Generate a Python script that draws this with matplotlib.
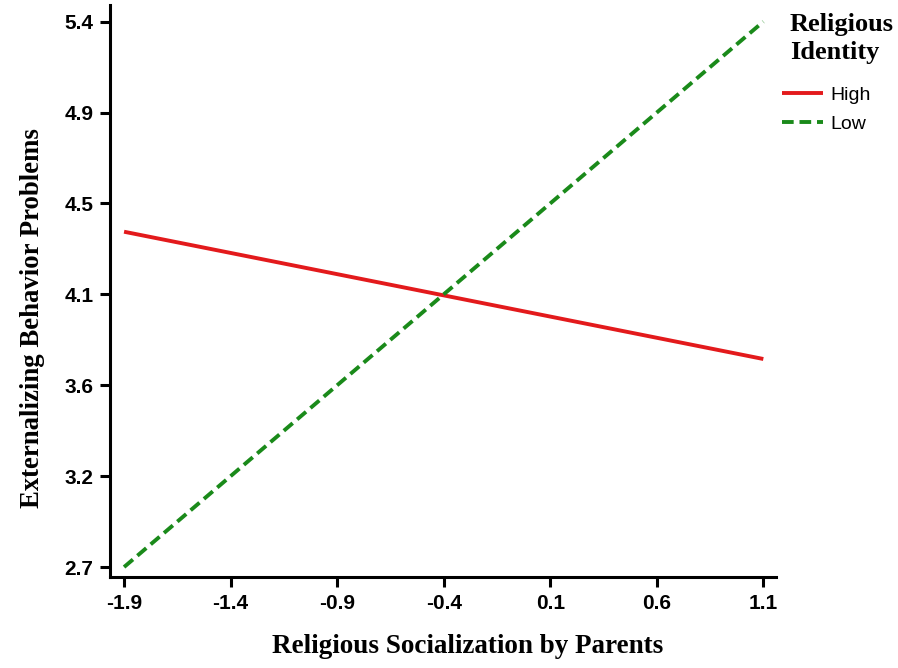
import matplotlib
matplotlib.use("Agg")
import matplotlib.pyplot as plt
import numpy as np

# Simple slopes: religious socialization x religious identity
x_vals = [-1.9, 1.1]
high_vals = [4.36, 3.73]
low_vals = [2.70, 5.40]

x_ticks = [-1.9, -1.4, -0.9, -0.4, 0.1, 0.6, 1.1]
y_ticks = list(np.linspace(2.7, 5.4, 7))
y_labels = ["2.7", "3.2", "3.6", "4.1", "4.5", "4.9", "5.4"]

fig = plt.figure(figsize=(8.98, 6.68), dpi=100)
ax = fig.add_axes([0.1225, 0.136, 0.742, 0.857])

ax.plot(x_vals, high_vals, color="#e31a1c", lw=2.8, label="High", solid_capstyle="butt")
ax.plot(x_vals, low_vals, color="#1a8a1a", lw=2.8, ls=(0, (3.0, 1.5)), label="Low")

ax.set_xlim(-1.966, 1.161)
ax.set_ylim(2.65, 5.484)
ax.set_xticks(x_ticks)
ax.set_xticklabels([f"{v:.1f}" for v in x_ticks])
ax.set_yticks(y_ticks)
ax.set_yticklabels(y_labels)

for s in ("top", "right"):
    ax.spines[s].set_visible(False)
for s in ("left", "bottom"):
    ax.spines[s].set_linewidth(2.2)
ax.tick_params(width=2.2, length=7, labelsize=15, pad=5)
for lab in ax.get_xticklabels() + ax.get_yticklabels():
    lab.set_fontfamily("Liberation Sans")
    lab.set_fontweight("bold")

ax.set_xlabel("Religious Socialization by Parents", family="Liberation Serif",
              fontweight="bold", fontsize=19.5)
ax.set_ylabel("Externalizing Behavior Problems", family="Liberation Serif",
              fontweight="bold", fontsize=19.3)
ax.xaxis.set_label_coords(0.537, -0.1, transform=ax.transAxes)
ax.xaxis.label.set_va("top")
ax.yaxis.set_label_coords(-0.098, 0.452, transform=ax.transAxes)

# legend title drawn separately so the handles can sit a bit left of it
fig.text(790 / 898, 1 - 13 / 668, "Religious\nIdentity", ha="left", va="top",
         family="Liberation Serif", fontweight="bold", fontsize=19,
         linespacing=1.3)
ax.legend(loc="upper left", bbox_to_anchor=(782 / 898, 1 - 86 / 668),
          bbox_transform=fig.transFigure, frameon=False,
          handlelength=2.1, handletextpad=0.4, borderpad=0, borderaxespad=0,
          prop={"family": "Liberation Sans", "size": 14}, labelspacing=0.6)

fig.savefig("out.png", dpi=100)
